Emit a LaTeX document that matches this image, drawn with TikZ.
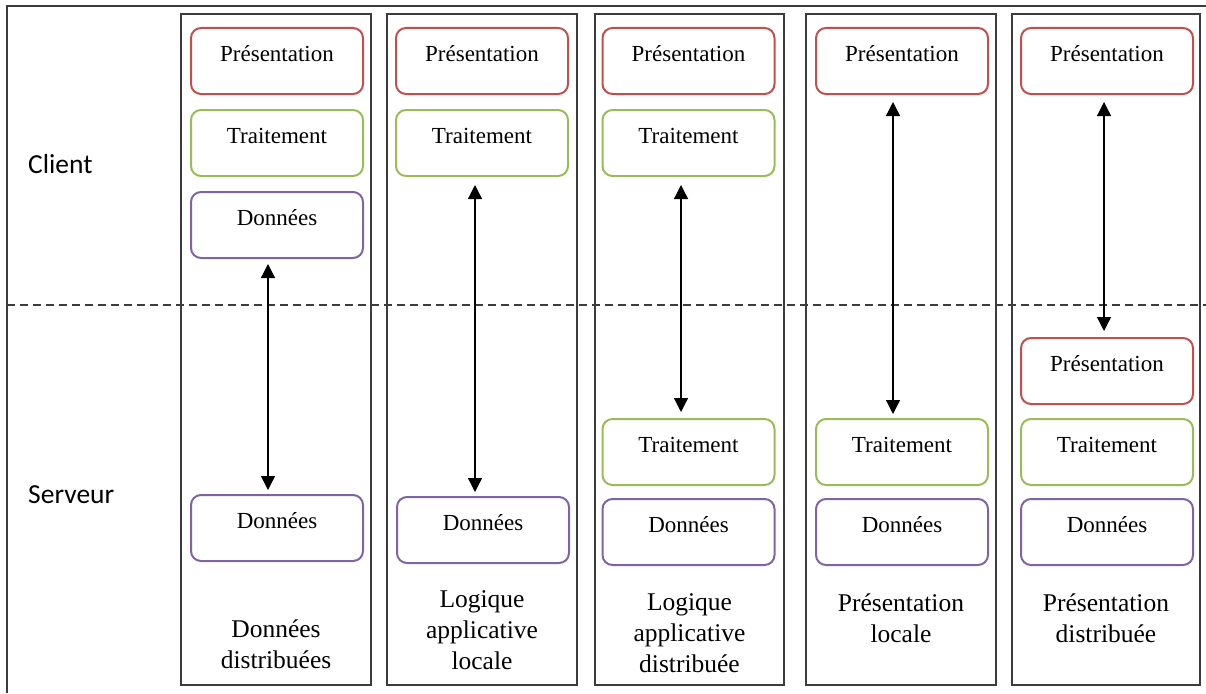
\documentclass[tikz,border=0pt]{standalone}
\usepackage{fontspec}
\setmainfont{Liberation Serif}
\newfontfamily\labelfont{Carlito}
\usetikzlibrary{arrows.meta,calc}

\definecolor{presred}{HTML}{C0504D}
\definecolor{traitgreen}{HTML}{9BBB59}
\definecolor{donpurple}{HTML}{8064A2}
\definecolor{framegray}{HTML}{3C3C3C}

\begin{document}
\begin{tikzpicture}[x=1pt,y=-1pt,
  layer/.style={draw, line width=2pt, rounded corners=10pt, fill=white,
    minimum width=172pt, minimum height=66pt, inner xsep=0pt, inner ysep=0pt,
    text height=33.5pt, text depth=32.5pt, font=\fontsize{23}{27}\selectfont, anchor=north},
  pres/.style={layer, draw=presred},
  trait/.style={layer, draw=traitgreen},
  don/.style={layer, draw=donpurple},
  column/.style={draw=framegray, line width=1.3pt},
  % captions are placed by the baseline of their last line
  caption/.style={align=center, font=\fontsize{25.5}{31}\selectfont, inner sep=0pt, anchor=base},
  side/.style={font=\labelfont\fontsize{27.5}{32}\selectfont, anchor=base west, inner sep=0pt},
  link/.style={line width=1.3pt, {Triangle[width=14pt,length=14pt]}-{Triangle[width=14pt,length=14pt]}}
]
\useasboundingbox (0,0) rectangle (1206,693);

% outer frame and client/server separation
\draw[framegray, line width=1.3pt] (1206,6) -- (7,6) -- (7,693);
\draw[framegray, line width=1.2pt, dash pattern=on 8pt off 5pt] (7,305) -- (1206,305);

\node[side] (client) at (28,173) {Client};
\node[side] (serveur) at (28,503) {Serveur};

% column frames
\draw[column] (181,14) rectangle (371,685);
\draw[column] (387,14) rectangle (577,685);
\draw[column] (595,14) rectangle (784,685);
\draw[column] (806,14) rectangle (996,685);
\draw[column] (1012,14) rectangle (1200,685);

% column 1 : données distribuées
\node[pres]  (p1c) at (277,27)  {Présentation};
\node[trait] (t1c) at (277,109) {Traitement};
\node[don]   (d1c) at (277,191) {Données};
\node[don]   (d1s) at (277,494) {Données};
\node[caption] (cap1) at (276,668) {Données\\distribuées};
\draw[link] ($(d1c.south)+(-9,5)$) -- ($(d1s.north)+(-9,-4)$);

% column 2 : logique applicative locale
\node[pres]  (p2c) at (482,27)  {Présentation};
\node[trait] (t2c) at (482,109) {Traitement};
\node[don]   (d2s) at (483,496) {Données};
\node[caption] (cap2) at (482,669) {Logique\\applicative\\locale};
\draw[link] ($(t2c.south)+(-7,8)$) -- ($(d2s.north)+(-8,-4)$);

% column 3 : logique applicative distribuée
\node[pres]  (p3c) at (688.5,27)  {Présentation};
\node[trait] (t3c) at (688.5,109) {Traitement};
\node[trait] (t3s) at (688.5,418) {Traitement};
\node[don]   (d3s) at (688.5,498) {Données};
\node[caption] (cap3) at (689.5,672) {Logique\\applicative\\distribuée};
\draw[link] ($(t3c.south)+(-7.5,8)$) -- ($(t3s.north)+(-7.5,-6)$);

% column 4 : présentation locale
\node[pres]  (p4c) at (902,27)  {Présentation};
\node[trait] (t4s) at (902,418) {Traitement};
\node[don]   (d4s) at (902,498) {Données};
\node[caption] (cap4) at (901,642) {Présentation\\locale};
\draw[link] ($(p4c.south)+(-9,7)$) -- ($(t4s.north)+(-9,-4)$);

% column 5 : présentation distribuée
\node[pres]  (p5c) at (1107,27)  {Présentation};
\node[pres]  (p5s) at (1107,337) {Présentation};
\node[trait] (t5s) at (1107,418) {Traitement};
\node[don]   (d5s) at (1107,498) {Données};
\node[caption] (cap5) at (1106,642) {Présentation\\distribuée};
\draw[link] ($(p5c.south)+(-3,7)$) -- ($(p5s.north)+(-3,-6)$);
\end{tikzpicture}
\end{document}
